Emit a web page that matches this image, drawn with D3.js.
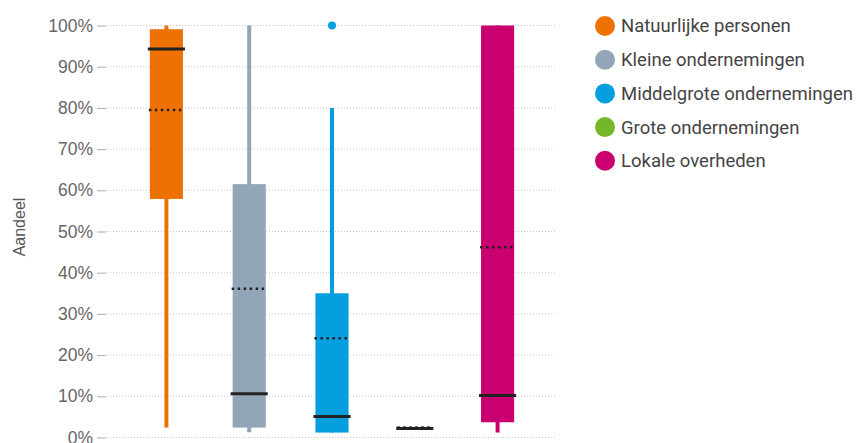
<!DOCTYPE html>
<html lang="nl">
<head>
    <meta charset="UTF-8">
    <title>Aandeel per sector</title>
    <script src="https://d3js.org/d3.v7.min.js"></script>
    <style>
        body { margin: 0; background: #fff; font-family: Roboto, Arial, sans-serif; }
        svg { font-family: Roboto, Arial, sans-serif; }
    </style>
</head>
<body>
<div id="chart"></div>
<script>
    // boxplot data per category (fractions)
    var categories = ['Natuurlijke personen', 'Kleine ondernemingen', 'Middelgrote ondernemingen', 'Grote ondernemingen', 'Lokale overheden'];
    var colors = ['#ee7203', '#93a6b9', '#059fe0', '#76b72a', '#cb0070'];
    var whiskerLow = [0.024, 0.013, 0.012, 0.020, 0.012];
    var q1 = [0.579, 0.024, 0.012, 0.021, 0.037];
    var median = [0.943, 0.106, 0.051, 0.022, 0.102];
    var q3 = [0.991, 0.615, 0.350, 0.024, 1.000];
    var whiskerHigh = [1.000, 1.000, 0.800, 0.025, 1.000];
    var mean = [0.795, 0.361, 0.241, 0.024, 0.462];
    var outliers = [[], [], [1.0], [], []];
    var yTicks = [0, 0.1, 0.2, 0.3, 0.4, 0.5, 0.6, 0.7, 0.8, 0.9, 1.0];

    var width = 865, height = 443;
    var svg = d3.select('#chart').append('svg')
        .attr('width', width)
        .attr('height', height);

    var y = d3.scaleLinear().domain([0, 1]).range([437.5, 25.5]);
    var x = d3.scaleBand().domain(categories).range([125, 539])
        .paddingInner(0.6).paddingOuter(0.3);

    // gridlines
    svg.append('g').selectAll('line')
        .data(yTicks).enter().append('line')
        .attr('x1', 107).attr('x2', 557)
        .attr('y1', d => y(d)).attr('y2', d => y(d))
        .attr('stroke', '#c8c8c8')
        .attr('stroke-width', 1)
        .attr('stroke-dasharray', '1,2');

    // y axis
    var yAxis = svg.append('g')
        .attr('transform', 'translate(106,0)')
        .call(d3.axisLeft(y).tickValues(yTicks).tickFormat(d3.format('.0%')).tickSize(9).tickPadding(4));
    yAxis.select('.domain').remove();
    yAxis.selectAll('line').attr('stroke', '#aaa');
    yAxis.selectAll('text').attr('fill', '#666').style('font-size', '17.5px');

    svg.append('text')
        .attr('transform', 'translate(25,227) rotate(-90)')
        .attr('text-anchor', 'middle')
        .attr('fill', '#555')
        .style('font-family', 'Arial, "Liberation Sans", sans-serif')
        .style('font-size', '16px')
        .text('Aandeel');

    var boxes = svg.append('g').selectAll('g')
        .data(categories).enter().append('g');

    // whiskers
    boxes.append('line')
        .attr('x1', d => x(d) + x.bandwidth() / 2)
        .attr('x2', d => x(d) + x.bandwidth() / 2)
        .attr('y1', (d, i) => y(whiskerLow[i]))
        .attr('y2', (d, i) => y(whiskerHigh[i]))
        .attr('stroke', (d, i) => colors[i])
        .attr('stroke-width', 4);

    // boxes
    boxes.append('rect')
        .attr('x', d => x(d))
        .attr('width', x.bandwidth())
        .attr('y', (d, i) => y(q3[i]))
        .attr('height', (d, i) => Math.max(1, y(q1[i]) - y(q3[i])))
        .attr('fill', (d, i) => colors[i]);

    // median
    boxes.append('line')
        .attr('x1', d => x(d) - 2)
        .attr('x2', d => x(d) + x.bandwidth() + 2)
        .attr('y1', (d, i) => y(median[i]))
        .attr('y2', (d, i) => y(median[i]))
        .attr('stroke', '#222')
        .attr('stroke-width', 3);

    // mean
    boxes.append('line')
        .attr('x1', d => x(d) - 1)
        .attr('x2', d => x(d) + x.bandwidth() + 1)
        .attr('y1', (d, i) => y(mean[i]))
        .attr('y2', (d, i) => y(mean[i]))
        .attr('stroke', '#222')
        .attr('stroke-width', 2.5)
        .attr('stroke-dasharray', '2.5,3.5');

    // outliers
    categories.forEach(function(c, i) {
        svg.selectAll(null)
            .data(outliers[i]).enter().append('circle')
            .attr('cx', x(c) + x.bandwidth() / 2)
            .attr('cy', d => y(d))
            .attr('r', 4)
            .attr('fill', colors[i]);
    });

    // legend
    var legend = svg.append('g').selectAll('g')
        .data(categories).enter().append('g')
        .attr('transform', (d, i) => 'translate(605,' + (26 + i * 33.7) + ')');
    legend.append('circle')
        .attr('r', 10)
        .attr('fill', (d, i) => colors[i]);
    legend.append('text')
        .attr('x', 16)
        .attr('dy', '0.35em')
        .attr('fill', '#444')
        .style('font-size', '18.5px')
        .text(d => d);
</script>
</body>
</html>
